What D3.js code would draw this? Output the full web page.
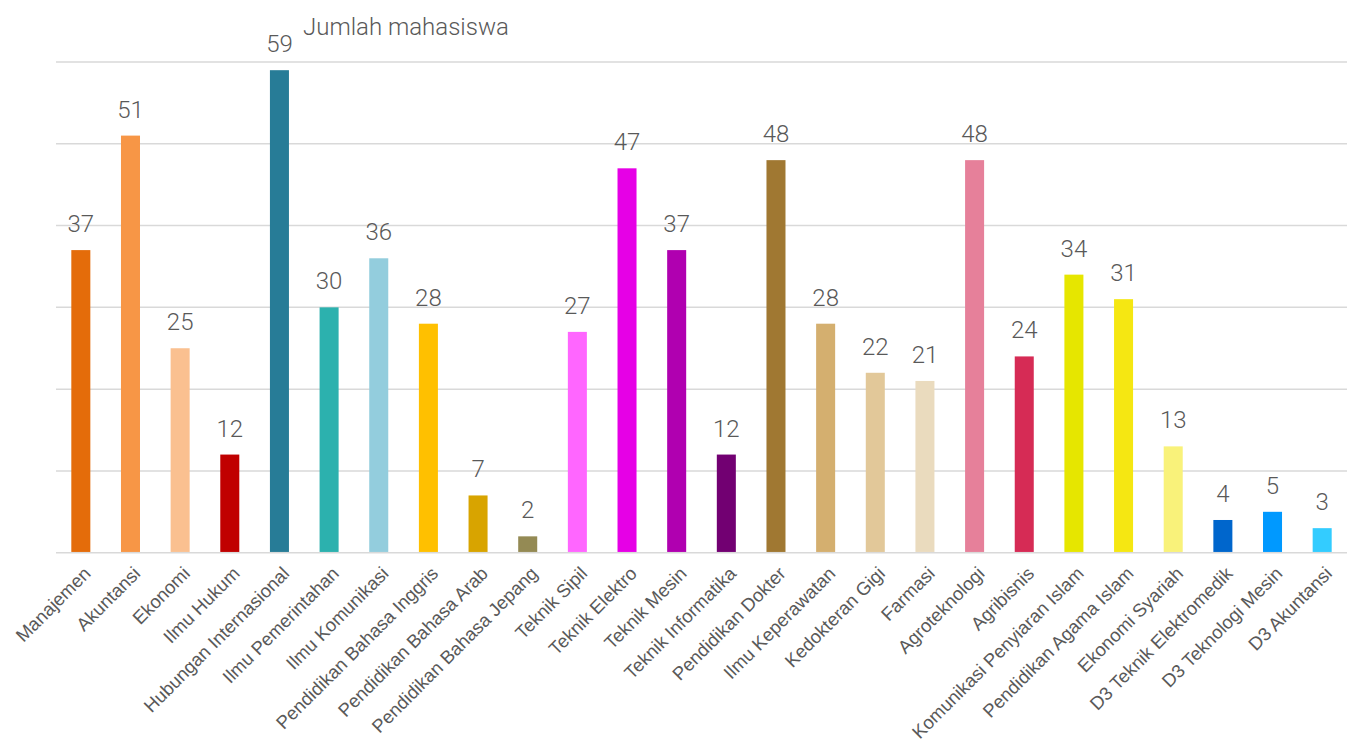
<!DOCTYPE html>
<html>
<head>
<meta charset="utf-8">
<script src="https://cdn.jsdelivr.net/npm/d3@7"></script>
<style>
    body { margin: 0; background: #fff; }
    svg { display: block; }
</style>
</head>
<body>
<script>
"use strict";

var programs = [
    "Manajemen", "Akuntansi", "Ekonomi", "Ilmu Hukum", "Hubungan Internasional",
    "Ilmu Pemerintahan", "Ilmu Komunikasi", "Pendidikan Bahasa Inggris",
    "Pendidikan Bahasa Arab", "Pendidikan Bahasa Jepang", "Teknik Sipil",
    "Teknik Elektro", "Teknik Mesin", "Teknik Informatika", "Pendidikan Dokter",
    "Ilmu Keperawatan", "Kedokteran Gigi", "Farmasi", "Agroteknologi", "Agribisnis",
    "Komunikasi Penyiaran Islam", "Pendidikan Agama Islam", "Ekonomi Syariah",
    "D3 Teknik Elektromedik", "D3 Teknologi Mesin", "D3 Akuntansi"
];
var students = [37, 51, 25, 12, 59, 30, 36, 28, 7, 2, 27, 47, 37, 12, 48, 28, 22, 21, 48, 24, 34, 31, 13, 4, 5, 3];
var barColors = [
    "#e46c0a", "#f79646", "#fac090", "#c00000", "#277c97",
    "#2cb1ae", "#93cddd", "#ffc000", "#d8a400", "#948a54",
    "#ff66ff", "#e600e6", "#b000b0", "#720072", "#a07832",
    "#d4af6f", "#e2c899", "#eadbbe", "#e6809a", "#d62b55",
    "#e6e600", "#f5e712", "#f9f27a", "#0066cc", "#0099ff", "#33ccff"
];
var gridTicks = [0, 10, 20, 30, 40, 50, 60];
var chartTitle = "Jumlah mahasiswa";

var width = 1354;
var height = 740;
var plot = { left: 56, right: 1347, top: 62, bottom: 552.7 };

var svg = d3.select("body").append("svg")
    .attr("width", width)
    .attr("height", height);

var x = d3.scaleBand()
    .domain(programs)
    .range([plot.left, plot.right])
    .paddingInner(0.617)
    .paddingOuter(0.3085);

var y = d3.scaleLinear()
    .domain([0, 60])
    .range([plot.bottom, plot.top]);

// gridlines
svg.append("g")
    .attr("class", "grid")
    .selectAll("line")
    .data(gridTicks)
    .enter()
    .append("line")
    .attr("x1", plot.left)
    .attr("x2", plot.right)
    .attr("y1", function(d) { return y(d); })
    .attr("y2", function(d) { return y(d); })
    .attr("stroke", "#d9d9d9")
    .attr("stroke-width", 1.5);

var rows = programs.map(function(p, i) {
    return { name: p, value: students[i], color: barColors[i] };
});

// bars
svg.append("g")
    .attr("class", "bars")
    .selectAll("rect")
    .data(rows)
    .enter()
    .append("rect")
    .attr("x", function(d) { return x(d.name); })
    .attr("width", x.bandwidth())
    .attr("y", function(d) { return y(d.value); })
    .attr("height", function(d) { return y(0) - y(d.value) - 0.75; })
    .attr("fill", function(d) { return d.color; });

// value labels
svg.append("g")
    .attr("class", "values")
    .selectAll("text")
    .data(rows)
    .enter()
    .append("text")
    .attr("x", function(d) { return x(d.name) + x.bandwidth() / 2; })
    .attr("y", function(d) { return y(d.value) - 18; })
    .attr("text-anchor", "middle")
    .attr("font-family", "Roboto, sans-serif")
    .attr("font-weight", 300)
    .attr("font-size", 24)
    .attr("fill", "#595959")
    .text(function(d) { return d.value; });

// category labels
svg.append("g")
    .attr("class", "categories")
    .selectAll("text")
    .data(rows)
    .enter()
    .append("text")
    .attr("transform", function(d) {
        var cx = x(d.name) + x.bandwidth() / 2 + 11;
        return "translate(" + cx + "," + (plot.bottom + 22) + ") rotate(-45)";
    })
    .attr("text-anchor", "end")
    .attr("font-family", "'Liberation Sans', Arial, sans-serif")
    .attr("font-size", 18.5)
    .attr("fill", "#595959")
    .text(function(d) { return d.name; });

svg.append("text")
    .attr("x", 303)
    .attr("y", 35)
    .attr("font-family", "Roboto, sans-serif")
    .attr("font-weight", 300)
    .attr("font-size", 24)
    .attr("fill", "#595959")
    .text(chartTitle);
</script>
</body>
</html>
